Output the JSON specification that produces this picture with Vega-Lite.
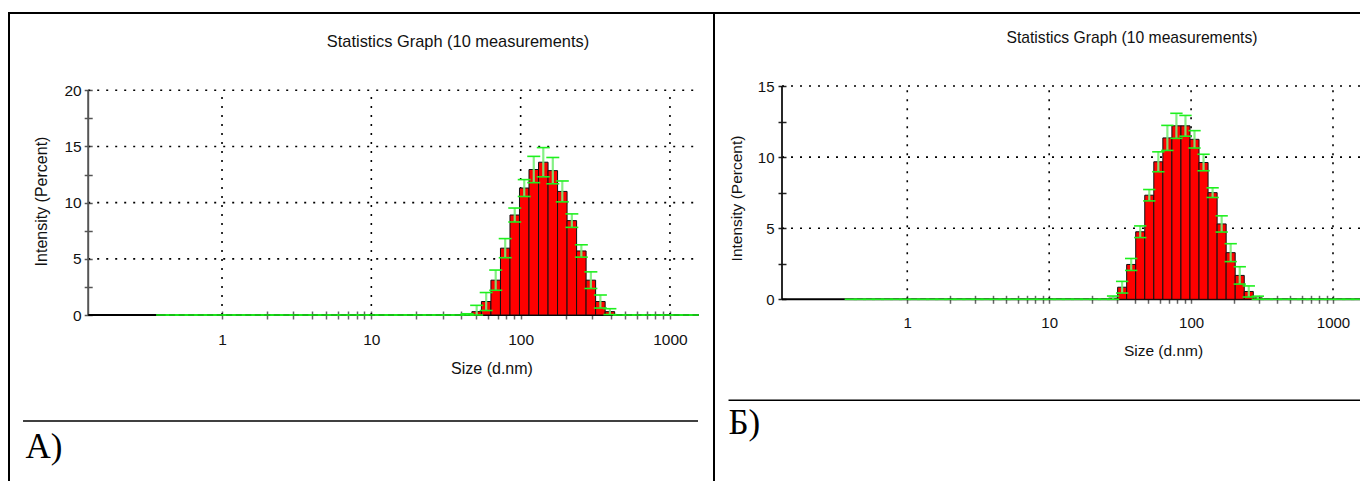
{
  "$schema": "https://vega.github.io/schema/vega-lite/v6.json",
  "padding": {"left": 8, "top": 12, "right": 0, "bottom": 0},
  "background": "white",
  "spacing": 0,
  "bounds": "flush",
  "config": {
    "font": "Liberation Sans",
    "view": {"stroke": "#000", "strokeWidth": 2},
    "title": {"fontWeight": "normal", "color": "#111", "font": "Liberation Sans", "anchor": "middle", "frame": "group", "baseline": "middle"}
  },
  "datasets": {
    "bins": [
      {"size": 0.4, "a": 0, "a_sd": 0, "b": 0, "b_sd": 0},
      {"size": 0.4632, "a": 0, "a_sd": 0, "b": 0, "b_sd": 0},
      {"size": 0.5365, "a": 0, "a_sd": 0, "b": 0, "b_sd": 0},
      {"size": 0.6213, "a": 0, "a_sd": 0, "b": 0, "b_sd": 0},
      {"size": 0.7195, "a": 0, "a_sd": 0, "b": 0, "b_sd": 0},
      {"size": 0.8332, "a": 0, "a_sd": 0, "b": 0, "b_sd": 0},
      {"size": 0.9649, "a": 0, "a_sd": 0, "b": 0, "b_sd": 0},
      {"size": 1.117, "a": 0, "a_sd": 0, "b": 0, "b_sd": 0},
      {"size": 1.294, "a": 0, "a_sd": 0, "b": 0, "b_sd": 0},
      {"size": 1.499, "a": 0, "a_sd": 0, "b": 0, "b_sd": 0},
      {"size": 1.736, "a": 0, "a_sd": 0, "b": 0, "b_sd": 0},
      {"size": 2.01, "a": 0, "a_sd": 0, "b": 0, "b_sd": 0},
      {"size": 2.328, "a": 0, "a_sd": 0, "b": 0, "b_sd": 0},
      {"size": 2.696, "a": 0, "a_sd": 0, "b": 0, "b_sd": 0},
      {"size": 3.122, "a": 0, "a_sd": 0, "b": 0, "b_sd": 0},
      {"size": 3.615, "a": 0, "a_sd": 0, "b": 0, "b_sd": 0},
      {"size": 4.187, "a": 0, "a_sd": 0, "b": 0, "b_sd": 0},
      {"size": 4.849, "a": 0, "a_sd": 0, "b": 0, "b_sd": 0},
      {"size": 5.615, "a": 0, "a_sd": 0, "b": 0, "b_sd": 0},
      {"size": 6.503, "a": 0, "a_sd": 0, "b": 0, "b_sd": 0},
      {"size": 7.531, "a": 0, "a_sd": 0, "b": 0, "b_sd": 0},
      {"size": 8.721, "a": 0, "a_sd": 0, "b": 0, "b_sd": 0},
      {"size": 10.1, "a": 0, "a_sd": 0, "b": 0, "b_sd": 0},
      {"size": 11.7, "a": 0, "a_sd": 0, "b": 0, "b_sd": 0},
      {"size": 13.54, "a": 0, "a_sd": 0, "b": 0, "b_sd": 0},
      {"size": 15.69, "a": 0, "a_sd": 0, "b": 0, "b_sd": 0},
      {"size": 18.17, "a": 0, "a_sd": 0, "b": 0, "b_sd": 0},
      {"size": 21.04, "a": 0, "a_sd": 0, "b": 0, "b_sd": 0},
      {"size": 24.36, "a": 0, "a_sd": 0, "b": 0, "b_sd": 0},
      {"size": 28.21, "a": 0, "a_sd": 0, "b": 0.08, "b_sd": 0.15},
      {"size": 32.67, "a": 0, "a_sd": 0, "b": 0.85, "b_sd": 0.41},
      {"size": 37.84, "a": 0, "a_sd": 0, "b": 2.45, "b_sd": 0.42},
      {"size": 43.82, "a": 0.03, "a_sd": 0.08, "b": 4.75, "b_sd": 0.41},
      {"size": 50.75, "a": 0.3, "a_sd": 0.56, "b": 7.32, "b_sd": 0.4},
      {"size": 58.77, "a": 1.2, "a_sd": 0.8, "b": 9.67, "b_sd": 0.7},
      {"size": 68.06, "a": 3.1, "a_sd": 0.9, "b": 11.35, "b_sd": 0.88},
      {"size": 78.82, "a": 5.95, "a_sd": 0.85, "b": 12.2, "b_sd": 0.88},
      {"size": 91.28, "a": 8.9, "a_sd": 0.62, "b": 12.2, "b_sd": 0.73},
      {"size": 105.7, "a": 11.3, "a_sd": 0.75, "b": 11.25, "b_sd": 0.61},
      {"size": 122.4, "a": 12.95, "a_sd": 1.17, "b": 9.62, "b_sd": 0.58},
      {"size": 141.8, "a": 13.6, "a_sd": 1.3, "b": 7.5, "b_sd": 0.34},
      {"size": 164.2, "a": 12.85, "a_sd": 1.17, "b": 5.3, "b_sd": 0.57},
      {"size": 190.1, "a": 11.0, "a_sd": 0.93, "b": 3.28, "b_sd": 0.63},
      {"size": 220.2, "a": 8.4, "a_sd": 0.6, "b": 1.68, "b_sd": 0.61},
      {"size": 255.0, "a": 5.7, "a_sd": 0.55, "b": 0.55, "b_sd": 0.39},
      {"size": 295.3, "a": 3.1, "a_sd": 0.74, "b": 0.1, "b_sd": 0.12},
      {"size": 342.0, "a": 1.2, "a_sd": 0.58, "b": 0, "b_sd": 0},
      {"size": 396.1, "a": 0.3, "a_sd": 0.26, "b": 0, "b_sd": 0},
      {"size": 458.7, "a": 0, "a_sd": 0, "b": 0, "b_sd": 0},
      {"size": 531.2, "a": 0, "a_sd": 0, "b": 0, "b_sd": 0},
      {"size": 615.1, "a": 0, "a_sd": 0, "b": 0, "b_sd": 0},
      {"size": 712.4, "a": 0, "a_sd": 0, "b": 0, "b_sd": 0},
      {"size": 825.0, "a": 0, "a_sd": 0, "b": 0, "b_sd": 0},
      {"size": 955.4, "a": 0, "a_sd": 0, "b": 0, "b_sd": 0},
      {"size": 1106, "a": 0, "a_sd": 0, "b": 0, "b_sd": 0},
      {"size": 1281, "a": 0, "a_sd": 0, "b": 0, "b_sd": 0},
      {"size": 1484, "a": 0, "a_sd": 0, "b": 0, "b_sd": 0}
    ]
  },
  "hconcat": [
    {
      "width": 705,
      "height": 472,
      "title": {"text": "Statistics Graph (10 measurements)", "fontSize": 16.4, "offset": -37, "dx": 96.5},
      "resolve": {"scale": {"x": "independent", "y": "independent"}},
      "layer": [
        {
          "layer": [
            {
              "data": {"values": [{"v": 5}, {"v": 10}, {"v": 15}, {"v": 20}]},
              "mark": {"type": "rule", "color": "#000", "strokeWidth": 1.6, "strokeDash": [2, 7]},
              "encoding": {
                "y": {"field": "v", "type": "quantitative"},
                "x": {"datum": 0.127},
                "x2": {"datum": 1560}
              }
            },
            {
              "data": {"values": [{"g": 1}, {"g": 10}, {"g": 100}, {"g": 1000}]},
              "mark": {"type": "rule", "color": "#000", "strokeWidth": 1.6, "strokeDash": [2, 7]},
              "encoding": {
                "x": {"field": "g", "type": "quantitative"},
                "y": {"datum": 0},
                "y2": {"datum": 20}
              }
            },
            {
              "data": {"values": [{}]},
              "mark": {"type": "rule", "color": "#555", "strokeWidth": 2},
              "encoding": {
                "x": {"datum": 0.127},
                "y": {"datum": 0},
                "y2": {"datum": 20}
              }
            },
            {
              "data": {"values": [{}]},
              "mark": {"type": "rule", "color": "#000", "strokeWidth": 2},
              "encoding": {
                "y": {"datum": 0},
                "x": {"datum": 0.127},
                "x2": {"datum": 1560}
              }
            },
            {
              "data": {"name": "bins"},
              "transform": [
                {"calculate": "datum.size / 1.07614", "as": "lo"},
                {"calculate": "datum.size * 1.07614", "as": "hi"},
                {"calculate": "datum.size / 1.1054", "as": "cap_lo"},
                {"calculate": "datum.size * 1.1054", "as": "cap_hi"},
                {"calculate": "datum.a + datum.a_sd", "as": "err_hi"},
                {"calculate": "max(0, datum.a - datum.a_sd)", "as": "err_lo"}
              ],
              "layer": [
                {
                  "transform": [{"filter": "datum.a > 0"}],
                  "mark": {"type": "rect", "color": "#ff0000", "stroke": "#111", "strokeWidth": 1},
                  "encoding": {
                    "x": {
                      "field": "lo", "type": "quantitative",
                      "scale": {"type": "log", "domain": [0.127, 1560], "range": [79.2, 689.8], "clamp": true, "nice": false},
                      "axis": {
                        "orient": "bottom", "offset": -174, "domain": false, "grid": false,
                        "values": [1, 2, 3, 4, 5, 6, 7, 8, 9, 10, 20, 30, 40, 50, 60, 70, 80, 90, 100, 200, 300, 400, 500, 600, 700, 800, 900, 1000],
                        "format": "d",
                        "labelExpr": "datum.value == 1 || datum.value == 10 || datum.value == 100 || datum.value == 1000 ? datum.label : ''",
                        "tickSize": 8, "tickColor": "#666", "tickWidth": 1.5,
                        "labelPadding": 13.5, "labelFont": "Liberation Sans", "labelFontSize": 15.5, "labelColor": "#111",
                        "labelOverlap": false, "labelFlush": false, "labelBound": false,
                        "title": "Size (d.nm)", "titleFont": "Liberation Sans", "titleFontSize": 16, "titleFontWeight": "normal", "titleColor": "#111",
                        "titleX": 482.5, "titleY": 57, "titleAlign": "center", "titleBaseline": "middle"
                      }
                    },
                    "x2": {"field": "hi"},
                    "y": {
                      "field": "a", "type": "quantitative",
                      "scale": {"domain": [0, 20], "range": [302, 77.3], "nice": false},
                      "axis": {
                        "orient": "left", "offset": -83.2, "domain": false, "grid": false,
                        "values": [0, 2.5, 5, 7.5, 10, 12.5, 15, 17.5, 20],
                        "format": "d",
                        "labelExpr": "datum.value % 5 === 0 ? datum.label : ''",
                        "tickSize": 8, "tickColor": "#555", "tickWidth": 1.5,
                        "labelPadding": 3, "labelFont": "Liberation Sans", "labelFontSize": 15.5, "labelColor": "#111",
                        "labelOverlap": false, "labelBound": false, "labelFlush": false,
                        "title": "Intensity (Percent)", "titleFont": "Liberation Sans", "titleFontSize": 16, "titleFontWeight": "normal", "titleColor": "#111",
                        "titleX": -51, "titleY": 188, "titleAngle": 270, "titleAlign": "center", "titleBaseline": "middle"
                      }
                    },
                    "y2": {"datum": 0}
                  }
                },
                {
                  "transform": [{"filter": "datum.a > 0"}],
                  "mark": {"type": "rule", "color": "#77ee77", "strokeWidth": 2.2, "opacity": 0.9},
                  "encoding": {
                    "x": {"field": "size", "type": "quantitative"},
                    "y": {"field": "err_lo", "type": "quantitative"},
                    "y2": {"field": "err_hi"}
                  }
                },
                {
                  "mark": {"type": "rule", "color": "#1ef01e", "strokeWidth": 1.6},
                  "encoding": {
                    "x": {"field": "cap_lo", "type": "quantitative"},
                    "x2": {"field": "cap_hi"},
                    "y": {"field": "err_hi", "type": "quantitative"}
                  }
                },
                {
                  "transform": [{"filter": "datum.a > 0"}],
                  "mark": {"type": "rule", "color": "#1ef01e", "strokeWidth": 1.6},
                  "encoding": {
                    "x": {"field": "cap_lo", "type": "quantitative"},
                    "x2": {"field": "cap_hi"},
                    "y": {"field": "err_lo", "type": "quantitative"}
                  }
                }
              ]
            }
          ]
        },
        {
          "data": {"values": [{"caption": "A)"}]},
          "layer": [
            {
              "mark": {"type": "rule", "color": "#000", "strokeWidth": 1.6},
              "encoding": {
                "x": {"datum": 0.0199, "type": "quantitative", "scale": {"domain": [0, 1]}, "axis": null},
                "x2": {"datum": 0.9773},
                "y": {"datum": 0.8644, "type": "quantitative", "scale": {"domain": [0, 1], "reverse": true}, "axis": null}
              }
            },
            {
              "mark": {"type": "text", "font": "Liberation Serif", "fontSize": 35, "align": "left", "baseline": "alphabetic", "color": "#000"},
              "encoding": {
                "text": {"field": "caption"},
                "x": {"datum": 0.0234, "type": "quantitative", "axis": null},
                "y": {"datum": 0.9422, "type": "quantitative", "axis": null}
              }
            }
          ]
        }
      ]
    },
    {
      "width": 660,
      "height": 472,
      "title": {"text": "Statistics Graph (10 measurements)", "fontSize": 15.7, "offset": -34, "dx": 88},
      "resolve": {"scale": {"x": "independent", "y": "independent"}},
      "layer": [
        {
          "layer": [
            {
              "data": {"values": [{"v": 5}, {"v": 10}, {"v": 15}]},
              "mark": {"type": "rule", "color": "#000", "strokeWidth": 1.6, "strokeDash": [2, 7]},
              "encoding": {
                "y": {"field": "v", "type": "quantitative"},
                "x": {"datum": 0.131},
                "x2": {"datum": 1560}
              }
            },
            {
              "data": {"values": [{"g": 1}, {"g": 10}, {"g": 100}, {"g": 1000}]},
              "mark": {"type": "rule", "color": "#000", "strokeWidth": 1.6, "strokeDash": [2, 7]},
              "encoding": {
                "x": {"field": "g", "type": "quantitative"},
                "y": {"datum": 0},
                "y2": {"datum": 15}
              }
            },
            {
              "data": {"values": [{}]},
              "mark": {"type": "rule", "color": "#111", "strokeWidth": 1.8},
              "encoding": {
                "x": {"datum": 0.131},
                "y": {"datum": 0},
                "y2": {"datum": 15}
              }
            },
            {
              "data": {"values": [{}]},
              "mark": {"type": "rule", "color": "#000", "strokeWidth": 2},
              "encoding": {
                "y": {"datum": 0},
                "x": {"datum": 0.131},
                "x2": {"datum": 1560}
              }
            },
            {
              "data": {"name": "bins"},
              "transform": [
                {"calculate": "datum.size / 1.07614", "as": "lo"},
                {"calculate": "datum.size * 1.07614", "as": "hi"},
                {"calculate": "datum.size / 1.1054", "as": "cap_lo"},
                {"calculate": "datum.size * 1.1054", "as": "cap_hi"},
                {"calculate": "datum.b + datum.b_sd", "as": "err_hi"},
                {"calculate": "max(0, datum.b - datum.b_sd)", "as": "err_lo"}
              ],
              "layer": [
                {
                  "transform": [{"filter": "datum.b > 0"}],
                  "mark": {"type": "rect", "color": "#ff0000", "stroke": "#111", "strokeWidth": 1},
                  "encoding": {
                    "x": {
                      "field": "lo", "type": "quantitative",
                      "scale": {"type": "log", "domain": [0.131, 1560], "range": [68, 646.4], "clamp": true, "nice": false},
                      "axis": {
                        "orient": "bottom", "offset": -189.7, "domain": false, "grid": false,
                        "values": [1, 2, 3, 4, 5, 6, 7, 8, 9, 10, 20, 30, 40, 50, 60, 70, 80, 90, 100, 200, 300, 400, 500, 600, 700, 800, 900, 1000],
                        "format": "d",
                        "labelExpr": "datum.value == 1 || datum.value == 10 || datum.value == 100 || datum.value == 1000 ? datum.label : ''",
                        "tickSize": 8, "tickColor": "#666", "tickWidth": 1.5,
                        "labelPadding": 12.2, "labelFont": "Liberation Sans", "labelFontSize": 15, "labelColor": "#111",
                        "labelOverlap": false, "labelFlush": false, "labelBound": false,
                        "title": "Size (d.nm)", "titleFont": "Liberation Sans", "titleFontSize": 15.5, "titleFontWeight": "normal", "titleColor": "#111",
                        "titleX": 449, "titleY": 55, "titleAlign": "center", "titleBaseline": "middle"
                      }
                    },
                    "x2": {"field": "hi"},
                    "y": {
                      "field": "b", "type": "quantitative",
                      "scale": {"domain": [0, 15], "range": [286.3, 73], "nice": false},
                      "axis": {
                        "orient": "left", "offset": -72, "domain": false, "grid": false,
                        "values": [0, 2.5, 5, 7.5, 10, 12.5, 15],
                        "format": "d",
                        "labelExpr": "datum.value % 5 === 0 ? datum.label : ''",
                        "tickSize": 8, "tickColor": "#222", "tickWidth": 1.5,
                        "labelPadding": 4, "labelFont": "Liberation Sans", "labelFontSize": 15, "labelColor": "#111",
                        "labelOverlap": false, "labelBound": false, "labelFlush": false,
                        "title": "Intensity (Percent)", "titleFont": "Liberation Sans", "titleFontSize": 15.5, "titleFontWeight": "normal", "titleColor": "#111",
                        "titleX": -50, "titleY": 185, "titleAngle": 270, "titleAlign": "center", "titleBaseline": "middle"
                      }
                    },
                    "y2": {"datum": 0}
                  }
                },
                {
                  "transform": [{"filter": "datum.b > 0"}],
                  "mark": {"type": "rule", "color": "#77ee77", "strokeWidth": 2.2, "opacity": 0.9},
                  "encoding": {
                    "x": {"field": "size", "type": "quantitative"},
                    "y": {"field": "err_lo", "type": "quantitative"},
                    "y2": {"field": "err_hi"}
                  }
                },
                {
                  "mark": {"type": "rule", "color": "#1ef01e", "strokeWidth": 1.6},
                  "encoding": {
                    "x": {"field": "cap_lo", "type": "quantitative"},
                    "x2": {"field": "cap_hi"},
                    "y": {"field": "err_hi", "type": "quantitative"}
                  }
                },
                {
                  "transform": [{"filter": "datum.b > 0"}],
                  "mark": {"type": "rule", "color": "#1ef01e", "strokeWidth": 1.6},
                  "encoding": {
                    "x": {"field": "cap_lo", "type": "quantitative"},
                    "x2": {"field": "cap_hi"},
                    "y": {"field": "err_lo", "type": "quantitative"}
                  }
                }
              ]
            }
          ]
        },
        {
          "data": {"values": [{"caption": "Б)"}]},
          "layer": [
            {
              "mark": {"type": "rule", "color": "#000", "strokeWidth": 1.6},
              "encoding": {
                "x": {"datum": 0.022, "type": "quantitative", "scale": {"domain": [0, 1]}, "axis": null},
                "x2": {"datum": 1},
                "y": {"datum": 0.8206, "type": "quantitative", "scale": {"domain": [0, 1], "reverse": true}, "axis": null}
              }
            },
            {
              "mark": {"type": "text", "font": "Liberation Serif", "fontSize": 35, "align": "left", "baseline": "alphabetic", "color": "#000"},
              "encoding": {
                "text": {"field": "caption"},
                "x": {"datum": 0.022, "type": "quantitative", "axis": null},
                "y": {"datum": 0.8926, "type": "quantitative", "axis": null}
              }
            }
          ]
        }
      ]
    }
  ]
}
